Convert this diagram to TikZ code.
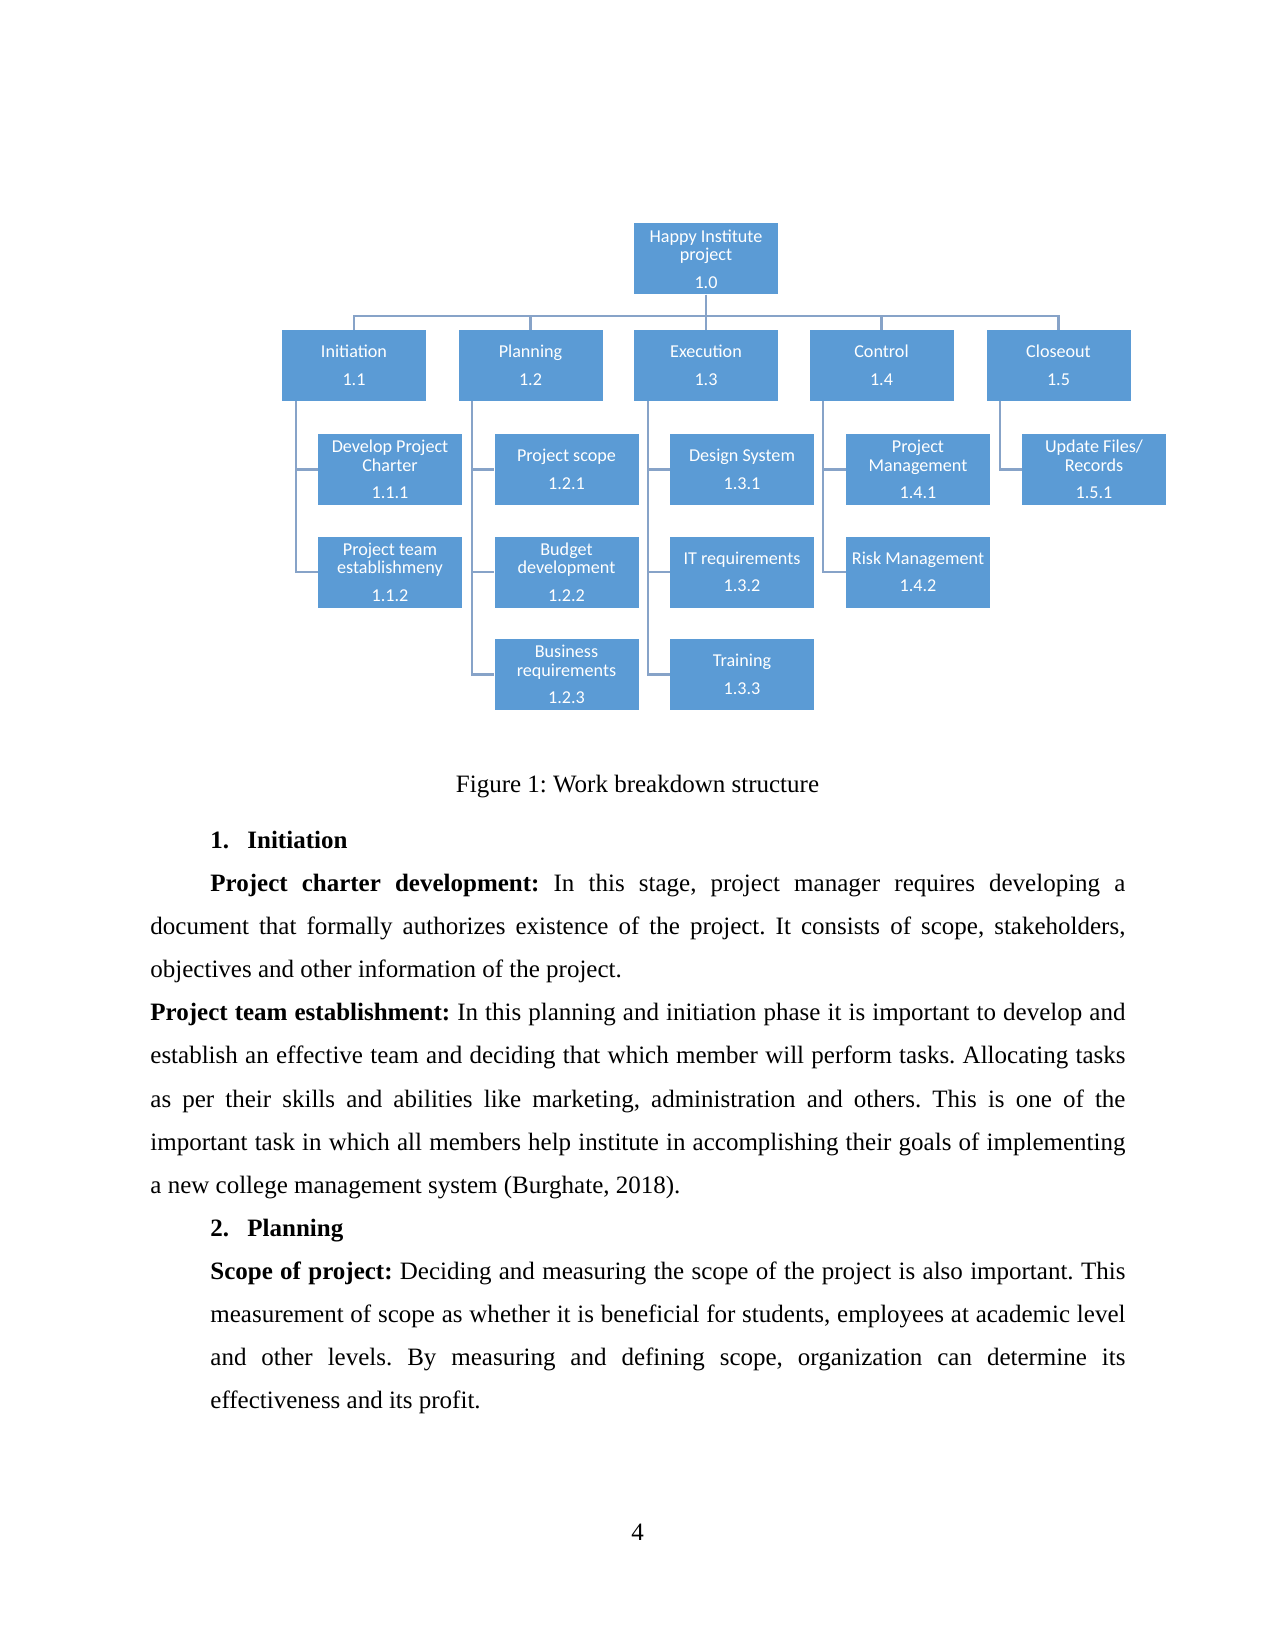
\documentclass[tikz,border=0pt]{standalone}
\usepackage{fontspec}
\setmainfont{Liberation Serif}
\newfontfamily\boxfont{Carlito}
\definecolor{boxblue}{HTML}{5B9BD5}
\definecolor{linkblue}{HTML}{87A3C8}
\begin{document}
\frenchspacing
\begin{tikzpicture}[x=0.48pt,y=-0.48pt,
  wbs/.style={fill=boxblue, text=white, font=\boxfont\fontsize{8.7}{9}\selectfont,
    minimum width=69.12pt, minimum height=34.08pt, inner sep=0pt, align=center},
  link/.style={draw=linkblue, line width=1pt},
  bodytext/.style={inner sep=0pt, anchor=base west, font=\fontsize{12}{14}\selectfont},
  centertext/.style={inner sep=0pt, anchor=base, font=\fontsize{12}{14}\selectfont}]
\useasboundingbox (0,0) rectangle (1275,1650);
% boxes
\node[wbs] (n10) at (706,259) {Happy Institute\\project\\[4.2pt]1.0};
\node[wbs] (n11) at (354,365.5) {Initiation\\[4.2pt]1.1};
\node[wbs] (n12) at (530.5,365.5) {Planning\\[4.2pt]1.2};
\node[wbs] (n13) at (706,365.5) {Execution\\[4.2pt]1.3};
\node[wbs] (n14) at (881.5,365.5) {Control\\[4.2pt]1.4};
\node[wbs] (n15) at (1058.5,365.5) {Closeout\\[4.2pt]1.5};
\node[wbs] (n111) at (390,469.5) {Develop Project\\Charter\\[4.2pt]1.1.1};
\node[wbs] (n112) at (390,572) {Project team\\establishmeny\\[4.2pt]1.1.2};
\node[wbs] (n121) at (566.5,469.5) {Project scope\\[4.2pt]1.2.1};
\node[wbs] (n122) at (566.5,572) {Budget\\development\\[4.2pt]1.2.2};
\node[wbs] (n123) at (566.5,674.5) {Business\\requirements\\[4.2pt]1.2.3};
\node[wbs] (n131) at (742,469.5) {Design System\\[4.2pt]1.3.1};
\node[wbs] (n132) at (742,572) {IT requirements\\[4.2pt]1.3.2};
\node[wbs] (n133) at (742,674.5) {Training\\[4.2pt]1.3.3};
\node[wbs] (n141) at (918,469.5) {Project\\Management\\[4.2pt]1.4.1};
\node[wbs] (n142) at (918,572) {Risk Management\\[4.2pt]1.4.2};
\node[wbs] (n151) at (1094,469.5) {Update Files/\\Records\\[4.2pt]1.5.1};
% connectors
\coordinate (bus) at (706,316);
\foreach \c in {n11,n12,n13,n14,n15}
  \draw[link] (n10.south) -- (n10.south |- bus) -| (\c.north);
\foreach \p/\c in {n11/n111,n11/n112,n12/n121,n12/n122,n12/n123,n13/n131,n13/n132,n13/n133,n14/n141,n14/n142,n15/n151}
  \draw[link] ([xshift=6.72pt]\p.south west) |- (\c.west);
% text
\node[centertext] (cap) at (637.5,792) {Figure 1: Work breakdown structure};
\node[bodytext] (h1n) at (210,848) {\textbf{1.}};
\node[bodytext] (h1) at (247,848) {\textbf{Initiation}};
\node[bodytext] (l1) at (210,891) {\makebox[439.2pt][s]{\textbf{Project charter development:} In this stage, project manager requires developing a}};
\node[bodytext] (l2) at (150,934) {\makebox[468pt][s]{document that formally authorizes existence of the project. It consists of scope, stakeholders,}};
\node[bodytext] (l3) at (150,977) {objectives and other information of the project.};
\node[bodytext] (l4) at (150,1020) {\makebox[468pt][s]{\textbf{Project team establishment:} In this planning and initiation phase it is important to develop and}};
\node[bodytext] (l5) at (150,1063) {\makebox[468pt][s]{establish an effective team and deciding that which member will perform tasks. Allocating tasks}};
\node[bodytext] (l6) at (150,1107) {\makebox[468pt][s]{as per their skills and abilities like marketing, administration and others. This is one of the}};
\node[bodytext] (l7) at (150,1150) {\makebox[468pt][s]{important task in which all members help institute in accomplishing their goals of implementing}};
\node[bodytext] (l8) at (150,1193) {a new college management system (Burghate, 2018).};
\node[bodytext] (h2n) at (210,1236) {\textbf{2.}};
\node[bodytext] (h2) at (247,1236) {\textbf{Planning}};
\node[bodytext] (l10) at (210,1279) {\makebox[439.2pt][s]{\textbf{Scope of project:} Deciding and measuring the scope of the project is also important. This}};
\node[bodytext] (l11) at (210,1322) {\makebox[439.2pt][s]{measurement of scope as whether it is beneficial for students, employees at academic level}};
\node[bodytext] (l12) at (210,1365) {\makebox[439.2pt][s]{and other levels. By measuring and defining scope, organization can determine its}};
\node[bodytext] (l13) at (210,1408) {effectiveness and its profit.};
\node[centertext] (pg) at (637.5,1540) {4};
\end{tikzpicture}
\end{document}
